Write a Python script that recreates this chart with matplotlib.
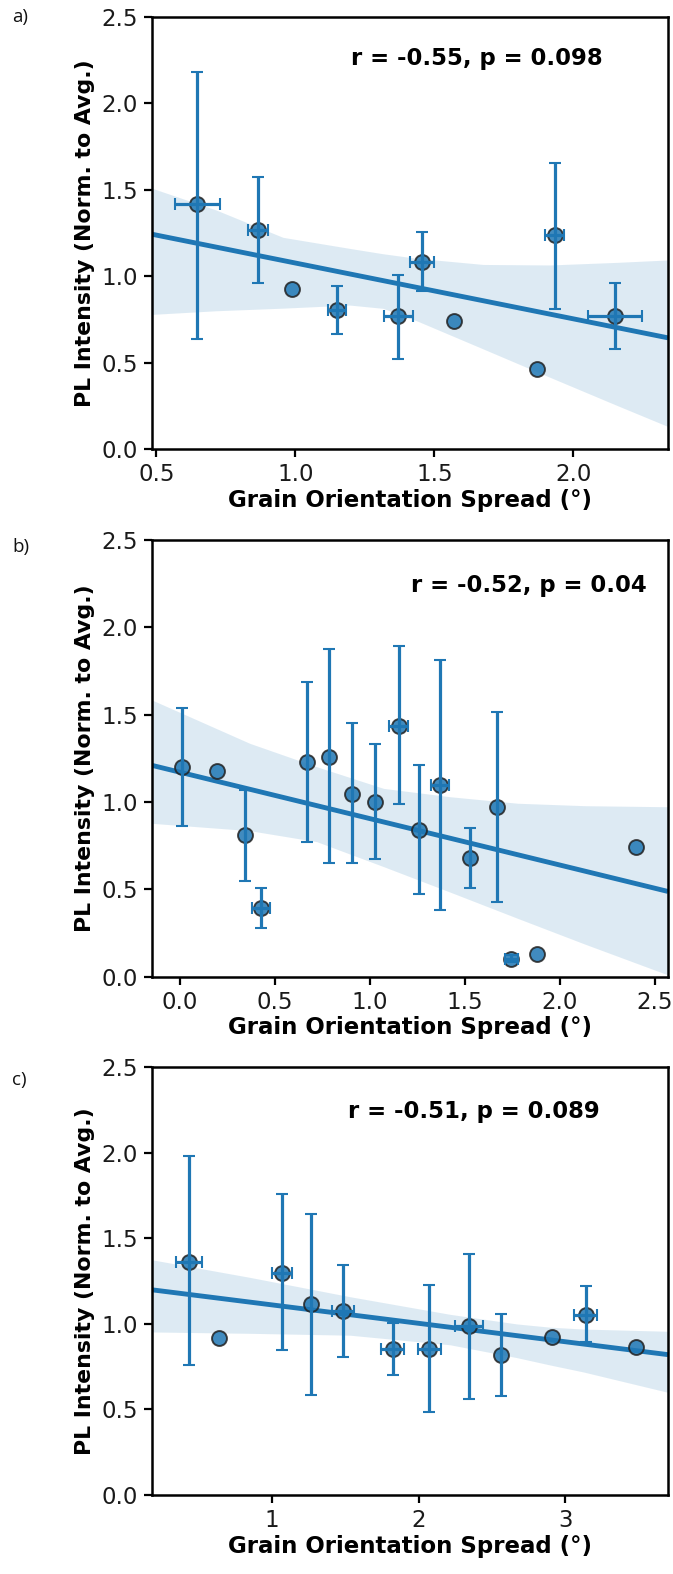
import numpy as np
import matplotlib
matplotlib.use("Agg")
import matplotlib.pyplot as plt

nan = np.nan

# ---------------- Panel a ----------------
a_x = [0.647, 0.865, 0.988, 1.150, 1.371, 1.457, 1.570, 1.869, 1.933, 2.150]
a_y = [1.415, 1.265, 0.927, 0.804, 0.768, 1.082, 0.740, 0.462, 1.236, 0.772]
a_ylo = [0.638, 0.960, nan, 0.665, 0.520, 0.912, nan, nan, 0.811, 0.581]
a_yhi = [2.181, 1.575, nan, 0.943, 1.009, 1.257, nan, nan, 1.656, 0.961]
a_xlo = [0.567, 0.830, nan, 1.118, 1.320, 1.411, nan, nan, 1.898, 2.052]
a_xhi = [0.727, 0.900, nan, 1.183, 1.423, 1.500, nan, nan, 1.968, 2.248]
a_band_x = [0.484, 0.715, 0.955, 1.195, 1.315, 1.435, 1.676, 1.916, 2.156, 2.341]
a_band_hi = [1.509, 1.383, 1.225, 1.161, 1.130, 1.104, 1.068, 1.065, 1.080, 1.094]
a_band_lo = [0.779, 0.800, 0.815, 0.833, 0.814, 0.743, 0.579, 0.415, 0.253, 0.130]
a_xlim = (0.484, 2.341)
a_xticks = [0.5, 1.0, 1.5, 2.0]
a_text = "r = -0.55, p = 0.098"

# ---------------- Panel b ----------------
b_x = [0.012, 0.193, 0.342, 0.426, 0.671, 0.784, 0.908, 1.026, 1.151, 1.258,
       1.368, 1.525, 1.667, 1.744, 1.880, 2.401]
b_y = [1.203, 1.178, 0.812, 0.392, 1.230, 1.260, 1.047, 1.000, 1.438, 0.839,
       1.096, 0.678, 0.974, 0.103, 0.129, 0.740]
b_ylo = [0.862, nan, 0.550, 0.277, 0.771, 0.650, 0.650, 0.675, 0.990, 0.472,
         0.380, 0.506, 0.430, 0.085, nan, nan]
b_yhi = [1.541, nan, 1.067, 0.508, 1.688, 1.877, 1.452, 1.331, 1.896, 1.211,
         1.814, 0.850, 1.518, 0.125, nan, nan]
b_xlo = [nan, nan, nan, 0.379, nan, nan, nan, nan, 1.101, nan,
         1.320, nan, nan, 1.709, nan, nan]
b_xhi = [nan, nan, nan, 0.475, nan, nan, nan, nan, 1.200, nan,
         1.414, nan, nan, 1.782, nan, nan]
b_band_x = [-0.148, 0.367, 0.720, 1.072, 1.425, 1.778, 2.131, 2.570]
b_band_hi = [1.584, 1.336, 1.202, 1.078, 1.030, 0.993, 0.979, 0.973]
b_band_lo = [0.878, 0.836, 0.773, 0.630, 0.483, 0.334, 0.187, 0.010]
b_xlim = (-0.148, 2.570)
b_xticks = [0.0, 0.5, 1.0, 1.5, 2.0, 2.5]
b_text = "r = -0.52, p = 0.04"

# ---------------- Panel c ----------------
c_x = [0.432, 0.641, 1.070, 1.265, 1.486, 1.823, 2.073, 2.344, 2.560, 2.907, 3.138, 3.480]
c_y = [1.360, 0.920, 1.300, 1.115, 1.077, 0.856, 0.856, 0.985, 0.818, 0.921, 1.055, 0.864]
c_ylo = [0.760, nan, 0.850, 0.583, 0.808, 0.700, 0.487, 0.561, 0.579, nan, 0.893, nan]
c_yhi = [1.982, nan, 1.758, 1.640, 1.345, 1.008, 1.225, 1.410, 1.056, nan, 1.220, nan]
c_xlo = [0.344, nan, 1.003, nan, 1.413, 1.744, 1.994, 2.246, nan, nan, 3.062, nan]
c_xhi = [0.527, nan, 1.137, nan, 1.560, 1.904, 2.155, 2.441, nan, nan, 3.217, nan]
c_band_x = [0.183, 0.851, 1.533, 2.215, 2.669, 2.896, 3.124, 3.700]
c_band_hi = [1.375, 1.272, 1.159, 1.056, 1.000, 0.981, 0.970, 0.957]
c_band_lo = [0.953, 0.945, 0.934, 0.878, 0.803, 0.760, 0.719, 0.600]
c_xlim = (0.183, 3.700)
c_xticks = [1, 2, 3]
c_text = "r = -0.51, p = 0.089"

y_ticks = [0.0, 0.5, 1.0, 1.5, 2.0, 2.5]
xlabel = "Grain Orientation Spread (°)"
ylabel = "PL Intensity (Norm. to Avg.)"
panel_labels = ["a)", "b)", "c)"]

BLUE = "#1f77b4"
W, H = 673, 1574
fig = plt.figure(figsize=(W / 100, H / 100), dpi=100)


def px_axes(left, top, right, bottom):
    return fig.add_axes([left / W, 1 - bottom / H, (right - left) / W, (bottom - top) / H])


def draw(ax, x, y, ylo, yhi, xlo, xhi, bx, bhi, blo, xlim, xticks, txt, tpos):
    x = np.asarray(x); y = np.asarray(y)
    ylo = np.asarray(ylo); yhi = np.asarray(yhi)
    xlo = np.asarray(xlo); xhi = np.asarray(xhi)
    ax.fill_between(bx, blo, bhi, color=BLUE, alpha=0.15, linewidth=0, zorder=1)
    slope, icpt = np.polyfit(x, y, 1)
    lx = np.array(xlim)
    ax.plot(lx, icpt + slope * lx, color=BLUE, lw=3.5, zorder=2, solid_capstyle="butt")
    ax.scatter(x, y, s=115, color=BLUE, alpha=0.85, edgecolors="#222222",
               linewidths=1.4, zorder=3)
    yerr = np.vstack([y - ylo, yhi - y])
    xerr = np.vstack([x - xlo, xhi - x])
    ax.errorbar(x, y, yerr=yerr, xerr=xerr, fmt="none", ecolor=BLUE,
                elinewidth=2.3, capsize=4.2, capthick=1.5, zorder=4)
    ax.set_xlim(*xlim)
    ax.set_ylim(0, 2.5)
    ax.set_xticks(xticks)
    ax.set_yticks(y_ticks)
    ax.set_xticklabels([f"{t:g}" if isinstance(t, int) else f"{t:.1f}" for t in xticks])
    ax.set_yticklabels([f"{t:.1f}" for t in y_ticks])
    ax.tick_params(axis="both", labelsize=16.5, length=6, width=1.6, pad=4,
                   color="black", labelcolor="#1a1a1a")
    for s in ax.spines.values():
        s.set_linewidth(1.8)
        s.set_color("black")
    ax.set_xlabel(xlabel, fontsize=16.5, fontweight="bold", labelpad=2)
    ax.set_ylabel(ylabel, fontsize=15.8, fontweight="bold", labelpad=5)
    ax.text(tpos[0], tpos[1], txt, transform=ax.transAxes, ha="right", va="center",
            fontsize=16.4, fontweight="bold")


ax_a = px_axes(152, 17, 668, 449)
draw(ax_a, a_x, a_y, a_ylo, a_yhi, a_xlo, a_xhi, a_band_x, a_band_hi, a_band_lo,
     a_xlim, a_xticks, a_text, (0.874, 0.905))

ax_b = px_axes(152, 540, 668, 976.7)
draw(ax_b, b_x, b_y, b_ylo, b_yhi, b_xlo, b_xhi, b_band_x, b_band_hi, b_band_lo,
     b_xlim, b_xticks, b_text, (0.959, 0.895))

ax_c = px_axes(152, 1067.3, 668, 1495)
draw(ax_c, c_x, c_y, c_ylo, c_yhi, c_xlo, c_xhi, c_band_x, c_band_hi, c_band_lo,
     c_xlim, c_xticks, c_text, (0.868, 0.896))

for lab, yc in zip(panel_labels, [17, 547, 1080]):
    fig.text(12 / W, 1 - yc / H, lab, fontsize=13.5, family="Open Sans",
             ha="left", va="center", color="#111111")

fig.savefig("out.png", dpi=100)
